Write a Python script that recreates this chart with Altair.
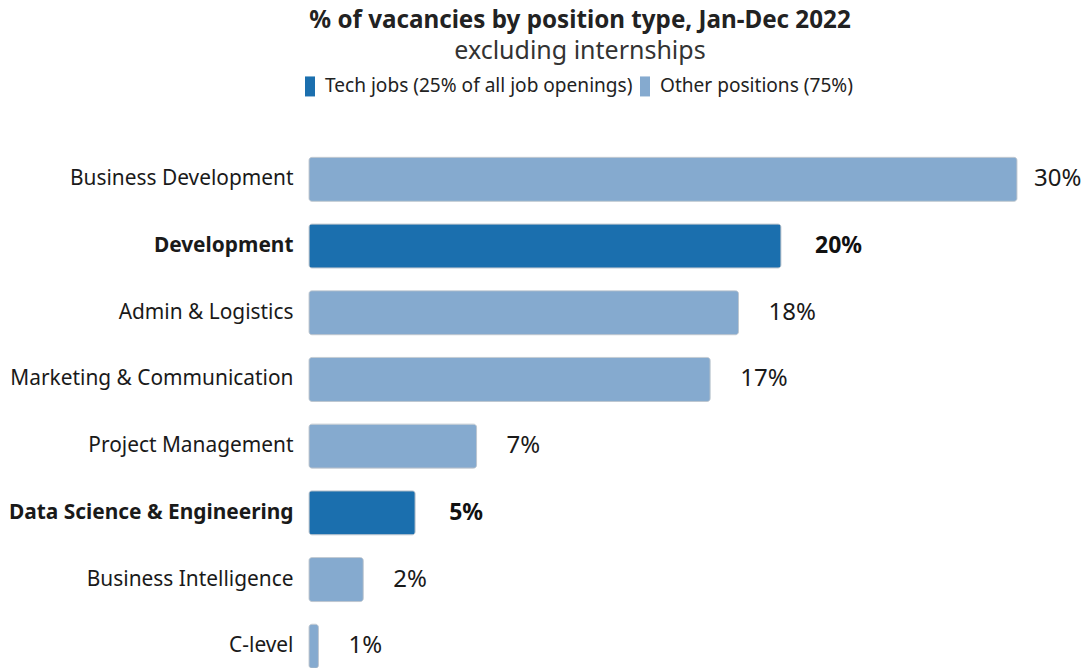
import altair as alt
import pandas as pd

categories = ["Business Development", "Development", "Admin & Logistics",
              "Marketing & Communication", "Project Management",
              "Data Science & Engineering", "Business Intelligence", "C-level"]
values = [30.0, 20.0, 18.2, 17.0, 7.1, 4.5, 2.3, 0.4]
value_labels = ["30%", "20%", "18%", "17%", "7%", "5%", "2%", "1%"]
groups = ["Other positions (75%)", "Tech jobs (25% of all job openings)",
          "Other positions (75%)", "Other positions (75%)", "Other positions (75%)",
          "Tech jobs (25% of all job openings)", "Other positions (75%)",
          "Other positions (75%)"]
legend_order = ["Tech jobs (25% of all job openings)", "Other positions (75%)"]
legend_colors = ["#1b6fae", "#85aacf"]

df = pd.DataFrame({"category": categories, "value": values,
                   "label": value_labels, "group": groups})

FONT = "Noto Sans"

y_enc = alt.Y("category:N", sort=categories, title=None,
              scale=alt.Scale(paddingInner=0.34, paddingOuter=0.17),
              axis=alt.Axis(domain=False, ticks=False, labelPadding=16,
                            labelFontSize=20.9, labelColor="#1a1a1a", labelFont=FONT,
                            labelLimit=500,
                            labelFontWeight={"condition": {"test": "datum.value == 'Development' || datum.value == 'Data Science & Engineering'", "value": "bold"}, "value": "normal"}))
x_enc = alt.X("value:Q", title=None, scale=alt.Scale(domain=[0, 30], nice=False), axis=None)

bars = alt.Chart(df).mark_bar(cornerRadius=3, stroke="#b8c2cc", strokeWidth=0.8).encode(
    x=x_enc, y=y_enc,
    color=alt.Color("group:N", scale=alt.Scale(domain=legend_order, range=legend_colors),
                    legend=alt.Legend(title=None, orient="none", direction="horizontal",
                                      legendX=-9, legendY=-70,
                                      symbolType="M-0.5,-1L0.5,-1L0.5,1L-0.5,1Z",
                                      symbolSize=400, symbolStrokeWidth=0,
                                      labelFontSize=19.1, labelFont=FONT, labelColor="#222",
                                      labelLimit=0, columnPadding=2, labelOffset=5,
                                      padding=0))
)

text_other = alt.Chart(df).transform_filter(
    "datum.group == 'Other positions (75%)' && datum.value < 25"
).mark_text(align="left", baseline="middle", dx=30, fontSize=24, font=FONT,
            color="#1a1a1a").encode(x=x_enc, y=y_enc, text="label:N")

text_top = alt.Chart(df).transform_filter(
    "datum.group == 'Other positions (75%)' && datum.value >= 25"
).mark_text(align="left", baseline="middle", dx=17, fontSize=24, font=FONT,
            color="#1a1a1a").encode(x=x_enc, y=y_enc, text="label:N")

text_tech = alt.Chart(df).transform_filter(
    "datum.group != 'Other positions (75%)'"
).mark_text(align="left", baseline="middle", dx=34, fontSize=23, font=FONT,
            fontWeight="bold", color="#111").encode(x=x_enc, y=y_enc, text="label:N")

chart = alt.layer(bars, text_other, text_top, text_tech).properties(
    width=708, height=alt.Step(66.7), padding={"top": 0, "left": 0, "right": 0, "bottom": 0},
    background="white",
    title=alt.TitleParams(text="% of vacancies by position type, Jan-Dec 2022",
                          subtitle="excluding internships", anchor="middle", frame="group",
                          dx=-83, fontSize=24.2, fontWeight="bold", font=FONT, color="#222",
                          subtitleFontSize=25, subtitleFont=FONT, subtitleColor="#333",
                          subtitlePadding=6, offset=12)
).configure_view(stroke="transparent", strokeWidth=0)

chart.save("out.html", embed_options={"renderer": "svg", "actions": False})
